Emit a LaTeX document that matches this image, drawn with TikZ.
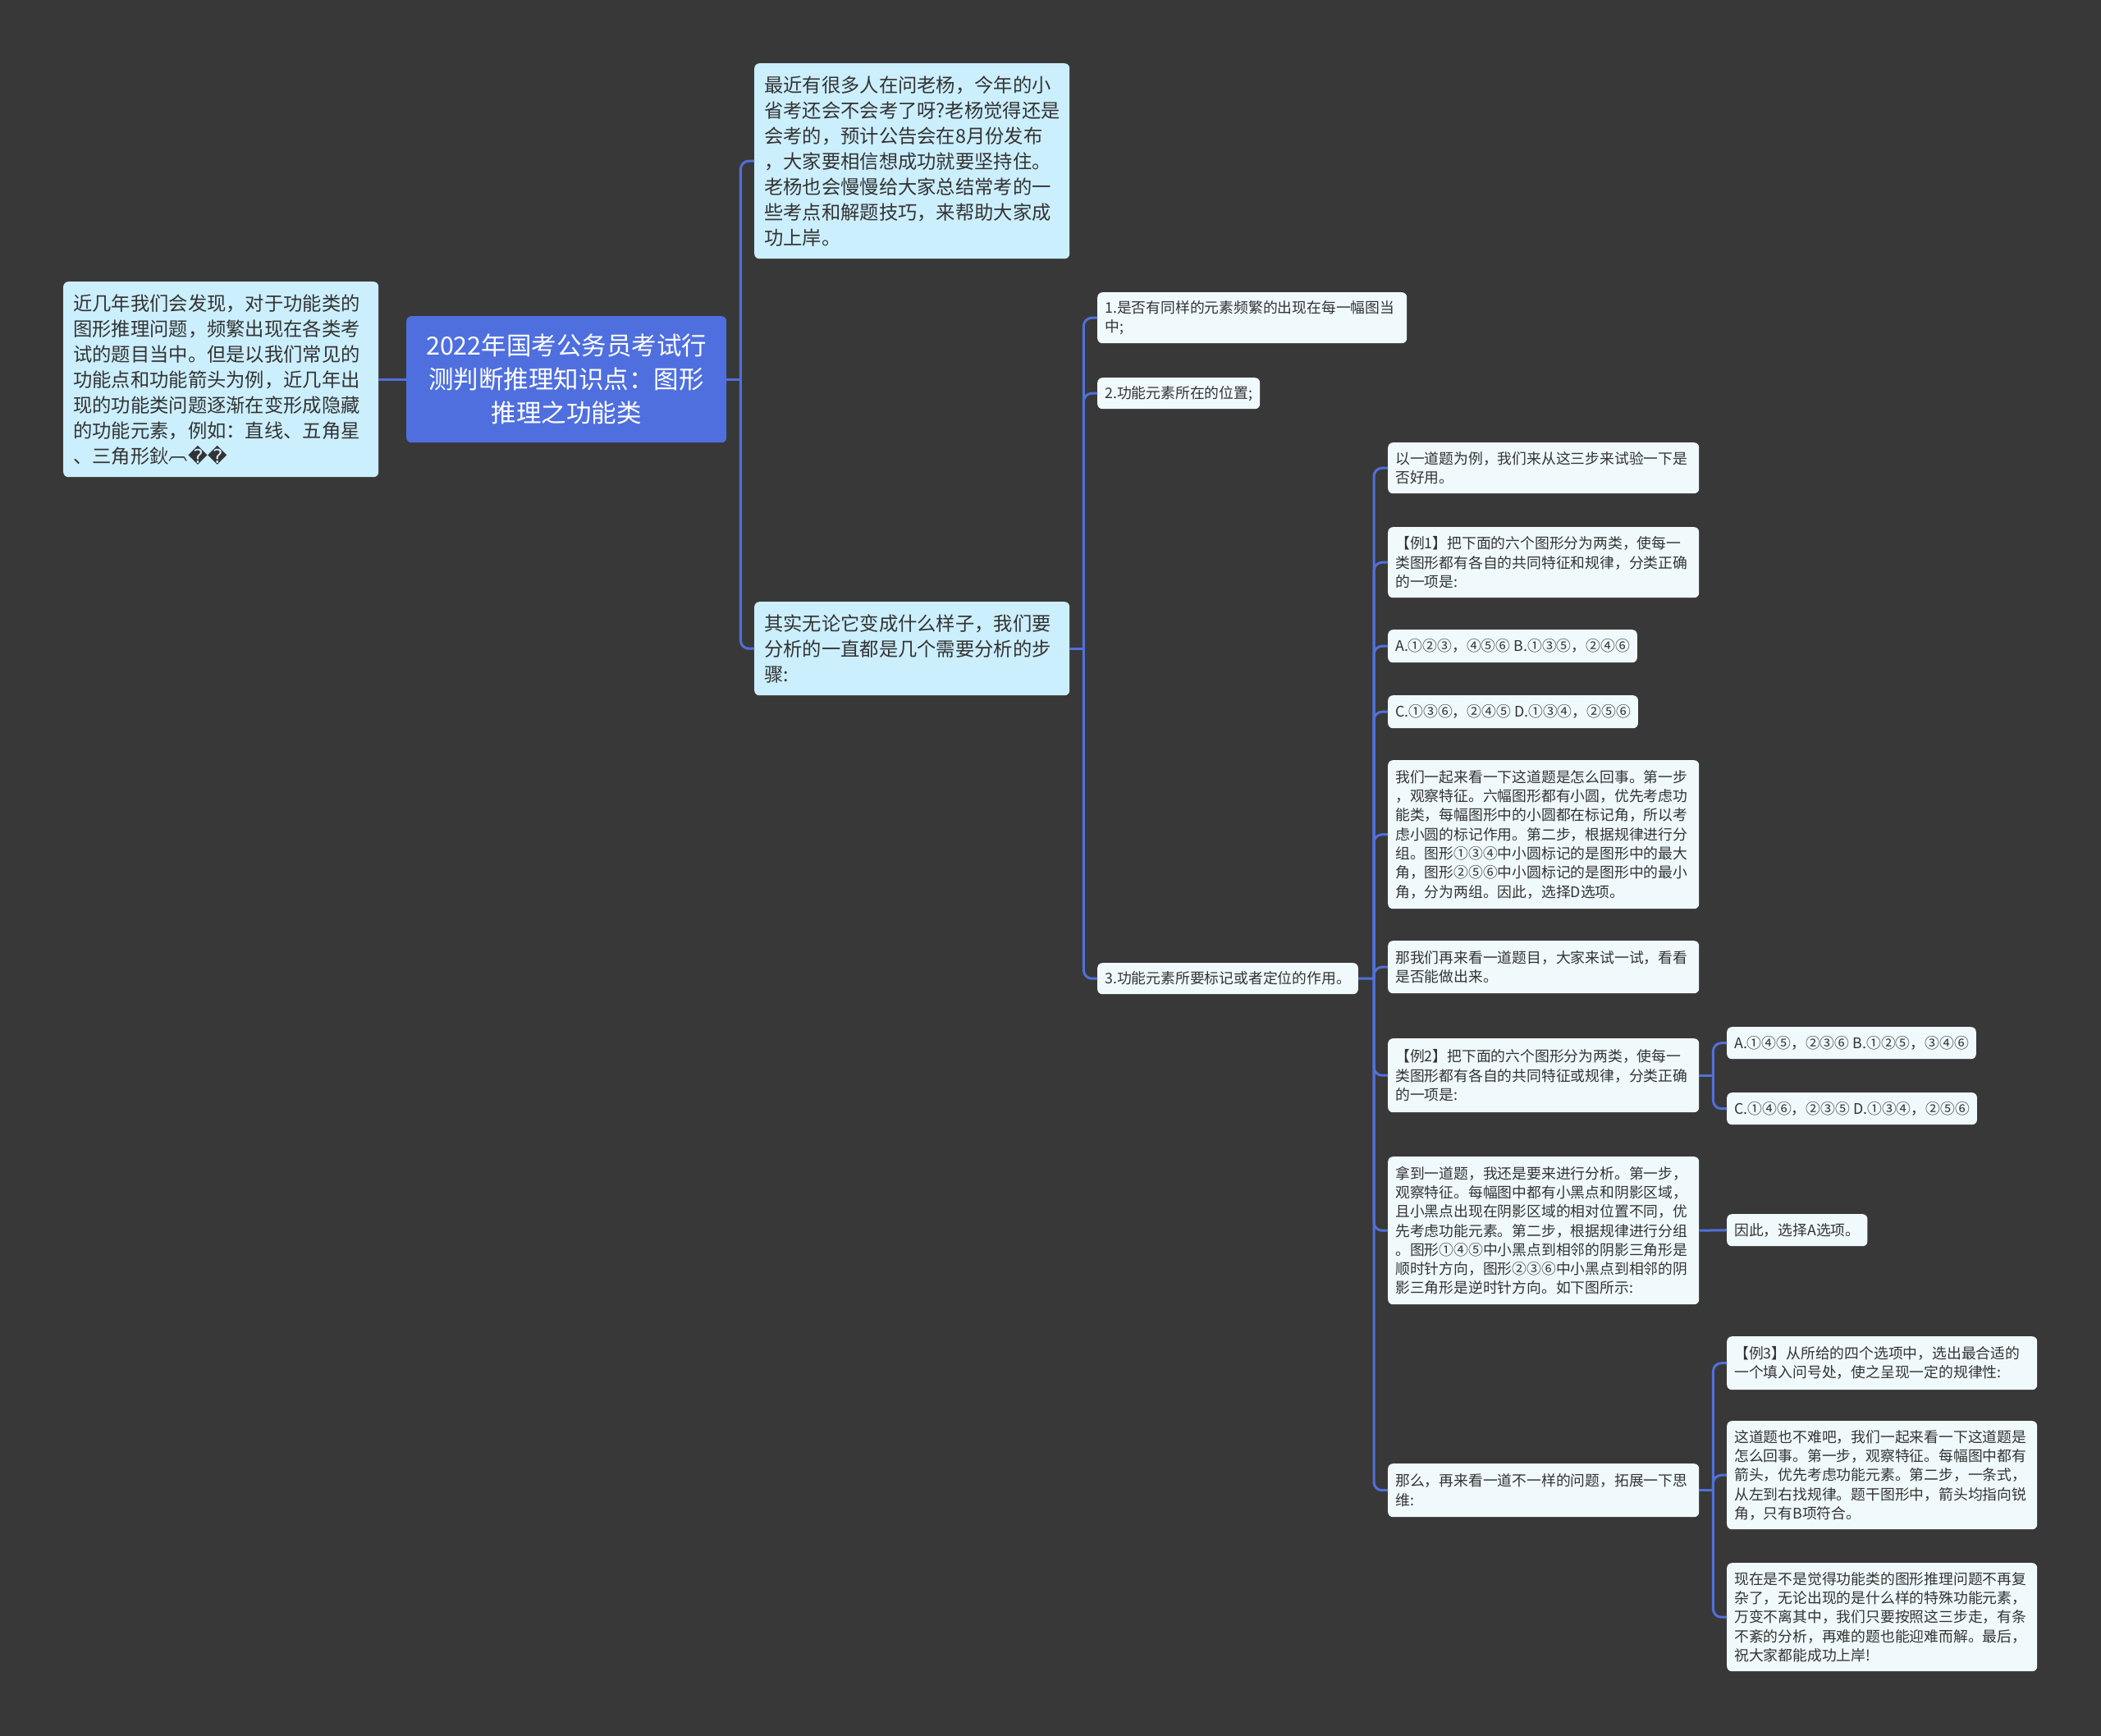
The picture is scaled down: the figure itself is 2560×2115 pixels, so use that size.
\documentclass[tikz,border=0pt]{standalone}
\usepackage{fontspec}
\setmainfont{Noto Sans CJK SC}
\newfontfamily\dejavu{DejaVu Sans}
\usetikzlibrary{calc}
\definecolor{bg}{HTML}{393838}
\definecolor{rootfill}{HTML}{4F6FDF}
\definecolor{lonefill}{HTML}{CCEFFD}
\definecolor{ltwofill}{HTML}{F0FAFD}
\definecolor{txt}{HTML}{333333}
\definecolor{conn}{HTML}{5070DA}
\begin{document}
\begin{tikzpicture}[x=1pt,y=-1pt,
  base/.style={rounded corners=6pt, anchor=north west, inner ysep=0pt, text=txt, align=left},
  lone/.style={base, fill=lonefill, inner xsep=12pt, font=\fontsize{23.3}{31}\selectfont},
  ltwo/.style={base, fill=ltwofill, inner xsep=9pt, font=\fontsize{17.8}{23.3}\selectfont},
  rootbox/.style={rounded corners=6pt, anchor=north west, inner xsep=10pt, inner ysep=0pt, fill=rootfill, text=white, align=center, font=\fontsize{30.5}{41}\selectfont},
  link/.style={draw=conn, line width=3pt, rounded corners=10pt}]
\useasboundingbox (0,0) rectangle (2560,2115);
\fill[bg] (0,0) rectangle (2560,2115);

% level 0 / 1
\node[rootbox, text width=370pt, minimum height=154pt] (root) at (495,385)
  {2022年国考公务员考试行\\测判断推理知识点：图形\\推理之功能类};
\node[lone, text width=360pt, minimum height=238pt] (n1) at (77,343)
  {近几年我们会发现，对于功能类的\\图形推理问题，频繁出现在各类考\\试的题目当中。但是以我们常见的\\功能点和功能箭头为例，近几年出\\现的功能类问题逐渐在变形成隐藏\\的功能元素，例如：直线、五角星\\、三角形鈥\raisebox{0.15em}{︹}{\dejavu ��}};
\node[lone, text width=360pt, minimum height=238pt] (n3) at (919,77)
  {最近有很多人在问老杨，今年的小\\省考还会不会考了呀?老杨觉得还是\\会考的，预计公告会在8月份发布\\，大家要相信想成功就要坚持住。\\老杨也会慢慢给大家总结常考的一\\些考点和解题技巧，来帮助大家成\\功上岸。};
\node[lone, text width=360pt, minimum height=114pt] (n4) at (919,733)
  {其实无论它变成什么样子，我们要\\分析的一直都是几个需要分析的步\\骤:};

% level 2
\node[ltwo, text width=359pt, minimum height=62pt] (n5) at (1337,356)
  {1.是否有同样的元素频繁的出现在每一幅图当\\中;};
\node[ltwo, minimum height=38pt] (n6) at (1337,460) {2.功能元素所在的位置;};
\node[ltwo, minimum height=38pt] (n7) at (1337,1173) {3.功能元素所要标记或者定位的作用。};

% level 3
\node[ltwo, text width=361pt, minimum height=62pt] (n8) at (1691,539)
  {以一道题为例，我们来从这三步来试验一下是\\否好用。};
\node[ltwo, text width=361pt, minimum height=86pt] (n9) at (1691,642)
  {【例1】把下面的六个图形分为两类，使每一\\类图形都有各自的共同特征和规律，分类正确\\的一项是:};
\node[ltwo, minimum height=40pt] (n10) at (1691,767) {A.①②③，④⑤⑥ B.①③⑤，②④⑥};
\node[ltwo, minimum height=40pt] (n11) at (1691,847) {C.①③⑥，②④⑤ D.①③④，②⑤⑥};
\node[ltwo, text width=361pt, minimum height=181pt] (n12) at (1691,926)
  {我们一起来看一下这道题是怎么回事。第一步\\，观察特征。六幅图形都有小圆，优先考虑功\\能类，每幅图形中的小圆都在标记角，所以考\\虑小圆的标记作用。第二步，根据规律进行分\\组。图形①③④中小圆标记的是图形中的最大\\角，图形②⑤⑥中小圆标记的是图形中的最小\\角，分为两组。因此，选择D选项。};
\node[ltwo, text width=361pt, minimum height=64pt] (n13) at (1691,1146)
  {那我们再来看一道题目，大家来试一试，看看\\是否能做出来。};
\node[ltwo, text width=361pt, minimum height=90pt] (n14) at (1691,1265)
  {【例2】把下面的六个图形分为两类，使每一\\类图形都有各自的共同特征或规律，分类正确\\的一项是:};
\node[ltwo, text width=361pt, minimum height=180pt] (n17) at (1691,1409)
  {拿到一道题，我还是要来进行分析。第一步，\\观察特征。每幅图中都有小黑点和阴影区域，\\且小黑点出现在阴影区域的相对位置不同，优\\先考虑功能元素。第二步，根据规律进行分组\\。图形①④⑤中小黑点到相邻的阴影三角形是\\顺时针方向，图形②③⑥中小黑点到相邻的阴\\影三角形是逆时针方向。如下图所示:};
\node[ltwo, text width=361pt, minimum height=65pt] (n19) at (1691,1783)
  {那么，再来看一道不一样的问题，拓展一下思\\维:};

% level 4
\node[ltwo, minimum height=39pt] (n15) at (2104,1251) {A.①④⑤，②③⑥ B.①②⑤，③④⑥};
\node[ltwo, minimum height=39pt] (n16) at (2104,1331) {C.①④⑥，②③⑤ D.①③④，②⑤⑥};
\node[ltwo, minimum height=39pt] (n18) at (2104,1479) {因此，选择A选项。};
\node[ltwo, text width=360pt, minimum height=65pt] (n20) at (2104,1628)
  {【例3】从所给的四个选项中，选出最合适的\\一个填入问号处，使之呈现一定的规律性:};
\node[ltwo, text width=360pt, minimum height=132pt] (n21) at (2104,1731)
  {这道题也不难吧，我们一起来看一下这道题是\\怎么回事。第一步，观察特征。每幅图中都有\\箭头，优先考虑功能元素。第二步，一条式，\\从左到右找规律。题干图形中，箭头均指向锐\\角，只有B项符合。};
\node[ltwo, text width=360pt, minimum height=132pt] (n22) at (2104,1904)
  {现在是不是觉得功能类的图形推理问题不再复\\杂了，无论出现的是什么样的特殊功能元素，\\万变不离其中，我们只要按照这三步走，有条\\不紊的分析，再难的题也能迎难而解。最后，\\祝大家都能成功上岸!};

% junctions
\coordinate (j1) at ($(root.east)+(17,0)$);
\coordinate (j2) at ($(n4.east)+(17,0)$);
\coordinate (j3) at (1674,1192);
\coordinate (j4) at ($(n14.east)+(17,0)$);
\coordinate (j5) at ($(n19.east)+(17,0)$);

% connectors
\draw[link] (root.west) -- (n1.east);
\draw[link] (root.east) -- (j1);
\draw[link] (j1) |- (n3.west);
\draw[link] (j1) |- (n4.west);
\draw[link] (n4.east) -- (j2);
\foreach \c in {n5,n6,n7} \draw[link] (j2) |- (\c.west);
\draw[link] (n7.east) -- (j3);
\foreach \c in {n8,n9,n10,n11,n12,n13,n14,n17,n19} \draw[link] (j3) |- (\c.west);
\draw[link] (n14.east) -- (j4);
\foreach \c in {n15,n16} \draw[link] (j4) |- (\c.west);
\draw[link] (n17.east) -- (n18.west);
\draw[link] (n19.east) -- (j5);
\foreach \c in {n20,n21,n22} \draw[link] (j5) |- (\c.west);
\end{tikzpicture}
\end{document}
